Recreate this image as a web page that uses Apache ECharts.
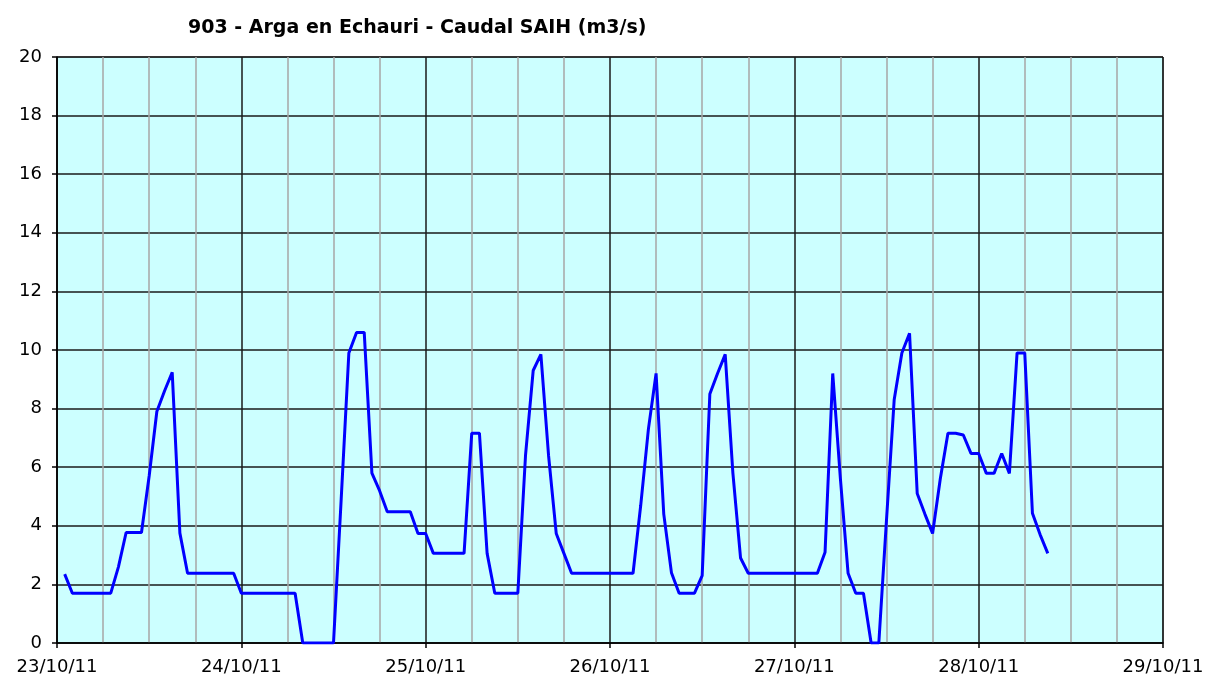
<!DOCTYPE html>
<html>
<head>
<meta charset="utf-8">
<title>903 - Arga en Echauri - Caudal SAIH (m3/s)</title>
<script src="https://cdn.jsdelivr.net/npm/echarts@6/dist/echarts.min.js"></script>
<style>
	html, body { margin: 0; padding: 0; background: #fff; }
	#main { width: 1208px; height: 682px; }
</style>
</head>
<body>
<div id="main"></div>
<script>
// horas desde 23/10/11 00:00 (datos horarios, el primero a la 01:00)
var firstHour = 1;
var caudal = [
	2.35, 1.7, 1.7, 1.7, 1.7, 1.7, 1.7, 2.6, 3.77, 3.77,
	3.77, 5.7, 7.9, 8.6, 9.24, 3.75, 2.38, 2.38, 2.38, 2.38,
	2.38, 2.38, 2.38, 1.7, 1.7, 1.7, 1.7, 1.7, 1.7, 1.7,
	1.7, 0, 0, 0, 0, 0, 4.9, 9.9, 10.6, 10.6,
	5.8, 5.2, 4.48, 4.48, 4.48, 4.48, 3.74, 3.74, 3.06, 3.06,
	3.06, 3.06, 3.06, 7.16, 7.16, 3.06, 1.7, 1.7, 1.7, 1.7,
	6.4, 9.3, 9.85, 6.4, 3.74, 3.06, 2.38, 2.38, 2.38, 2.38,
	2.38, 2.38, 2.38, 2.38, 2.38, 4.7, 7.3, 9.2, 4.4, 2.4,
	1.7, 1.7, 1.7, 2.3, 8.5, 9.2, 9.85, 5.8, 2.9, 2.38,
	2.38, 2.38, 2.38, 2.38, 2.38, 2.38, 2.38, 2.38, 2.38, 3.1,
	9.2, 5.6, 2.38, 1.7, 1.7, 0, 0, 4.2, 8.3, 9.9,
	10.57, 5.1, 4.4, 3.74, 5.6, 7.16, 7.16, 7.1, 6.47, 6.47,
	5.79, 5.79, 6.47, 5.79, 9.9, 9.9, 4.43, 3.7, 3.06
];
var dayLabels = ['23/10/11', '24/10/11', '25/10/11', '26/10/11', '27/10/11', '28/10/11', '29/10/11'];
var yTicks = [0, 2, 4, 6, 8, 10, 12, 14, 16, 18, 20];

var chartDom = document.getElementById('main');
var myChart = echarts.init(chartDom);
var option;

var seriesData = caudal.map(function (v, i) {
	return [firstHour + i, v];
});

var labelFont = {
	fontFamily: 'DejaVu Sans',
	fontSize: 18,
	color: '#000'
};

option = {
	backgroundColor: '#fff',
	animation: false,
	title: {
		text: '903 - Arga en Echauri - Caudal SAIH (m3/s)',
		left: 183,
		top: 14,
		textStyle: {
			fontFamily: 'DejaVu Sans',
			fontSize: 19,
			fontWeight: 'bold',
			color: '#000'
		}
	},
	grid: {
		left: 57,
		right: 45,
		top: 57,
		bottom: 39,
		show: true,
		backgroundColor: '#CCFFFF',
		borderColor: '#111',
		borderWidth: 1
	},
	xAxis: {
		type: 'value',
		min: 0,
		max: (dayLabels.length - 1) * 24,
		interval: 24,
		axisLine: { show: true, onZero: false, lineStyle: { color: '#000', width: 1.5 } },
		axisTick: { show: true, length: 5, lineStyle: { color: '#000', width: 1.5 } },
		axisLabel: Object.assign({
			margin: 15,
			formatter: function (val) {
				return dayLabels[Math.round(val / 24)] || '';
			}
		}, labelFont),
		splitLine: { show: true, lineStyle: { color: '#1a1a1a', width: 1.5 } },
		minorTick: { show: false, splitNumber: 4 },
		minorSplitLine: { show: true, lineStyle: { color: '#a6a6a6', width: 1.5 } }
	},
	yAxis: {
		type: 'value',
		min: yTicks[0],
		max: yTicks[yTicks.length - 1],
		interval: 2,
		axisLine: { show: true, lineStyle: { color: '#000', width: 1.5 } },
		axisTick: { show: true, length: 5, lineStyle: { color: '#000', width: 1.5 } },
		axisLabel: Object.assign({ margin: 15 }, labelFont),
		splitLine: { show: true, lineStyle: { color: '#1a1a1a', width: 1.5 } }
	},
	series: [
		{
			name: 'Caudal',
			type: 'line',
			data: seriesData,
			showSymbol: false,
			symbol: 'none',
			lineStyle: { color: '#0000ff', width: 3 },
			z: 5
		}
	]
};

option && myChart.setOption(option);
</script>
</body>
</html>
